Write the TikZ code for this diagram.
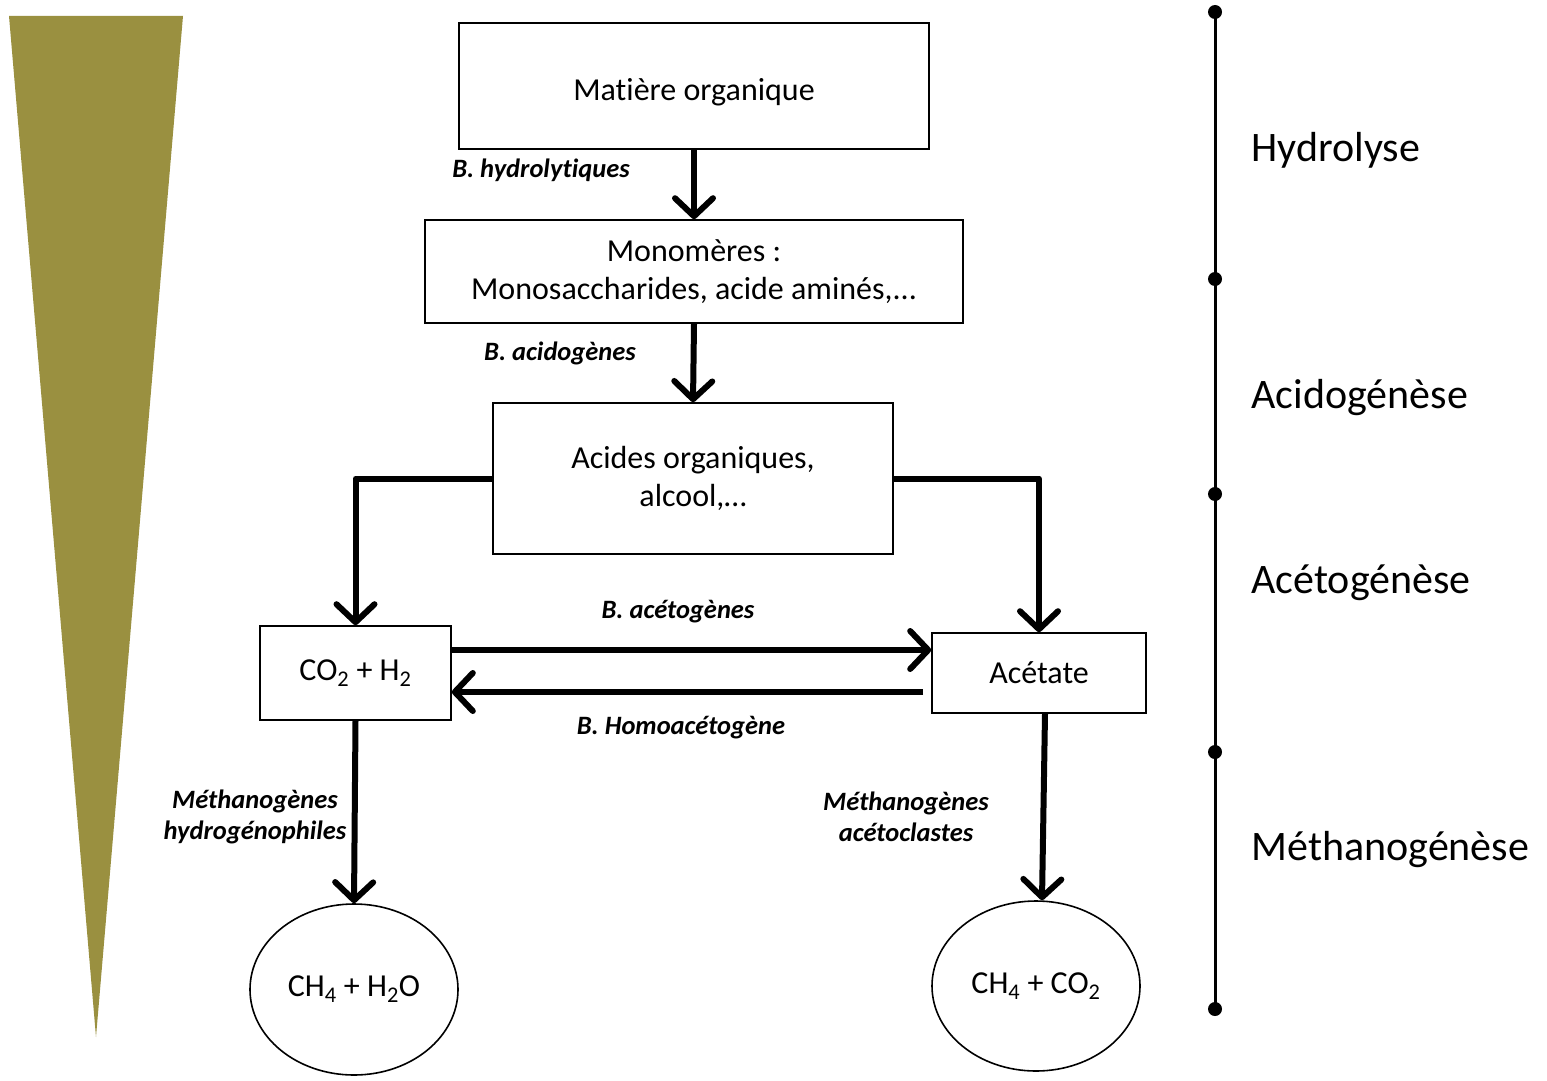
\documentclass[tikz,border=0pt]{standalone}
\usepackage{fontspec}
\setmainfont{Carlito}[RawFeature={-liga;-clig;-dlig;-rlig;-calt}]
\usetikzlibrary{arrows.meta,shapes.geometric}
\definecolor{olivefill}{RGB}{154,144,64}
\tikzset{
  stagebox/.style={draw, line width=1.6pt, inner sep=0pt, align=center, font=\fontsize{32}{38}\selectfont},
  endblob/.style={draw, ellipse, line width=1.6pt, inner sep=0pt, font=\fontsize{32}{38}\selectfont},
  flow/.style={line width=6pt, -{Straight Barb[length=18pt, width=38pt, round]}},
  microbe/.style={font=\fontsize{26.5}{31}\selectfont\bfseries\itshape, align=center},
  phase/.style={font=\fontsize{42}{46}\selectfont, anchor=west},
  tick/.style={circle, fill, inner sep=0pt, minimum size=14pt}
}
\begin{document}
\begin{tikzpicture}[x=1pt, y=-1pt]
    \useasboundingbox (0,0) rectangle (1547,1081);
    % the tapering wedge on the left
    \fill[olivefill] (9,16) -- (183,16) -- (96,1037) -- cycle;
    % stages
    \node[stagebox, minimum width=470pt, minimum height=126pt, text height=30pt, text depth=2pt] (matiere) at (694,86) {Matière organique};
    \node[stagebox, minimum width=538pt, minimum height=103pt] (monomeres) at (694,271.5) {Monomères :\\ Monosaccharides, acide aminés,...};
    \node[stagebox, minimum width=400pt, minimum height=151pt] (acides) at (693,478.5) {Acides organiques,\\alcool,…};
    \node[stagebox, minimum width=191pt, minimum height=94pt] (cohdeux) at (355.5,673) {CO\textsubscript{2} + H\textsubscript{2}};
    \node[stagebox, minimum width=214pt, minimum height=80pt] (acetate) at (1039,673) {Acétate};
    \node[endblob, minimum width=208pt, minimum height=171pt] (chhdo) at (354,989.5) {CH\textsubscript{4} + H\textsubscript{2}O};
    \node[endblob, minimum width=208pt, minimum height=170pt] (chcod) at (1036,986) {CH\textsubscript{4} + CO\textsubscript{2}};
    % arrows
    \draw[flow] (matiere.south) -- (monomeres.north);
    \draw[flow] (monomeres.south) -- (acides.north);
    \draw[flow, line join=round] (acides.west) -| (cohdeux.north);
    \draw[flow, line join=round] (acides.east) -| (acetate.north);
    \draw[flow] (cohdeux.east |- 0,650) -- (acetate.west |- 0,650);
    \draw[flow] ([xshift=-8pt]acetate.west |- 0,692) -- (cohdeux.east |- 0,692);
    \draw[flow] (cohdeux.south) -- (chhdo.north);
    \draw[flow] ([xshift=6pt]acetate.south) -- ([xshift=6pt]chcod.north);
    % bacteria
    \node[microbe] (hydro) at (541,170) {B. hydrolytiques};
    \node[microbe] (acido) at (560,353) {B. acidogènes};
    \node[microbe] (aceto) at (678,612) {B. acétogènes};
    \node[microbe] (homo) at (681,728) {B. Homoacétogène};
    \node[microbe] (methh) at (255,817) {Méthanogènes\\hydrogénophiles};
    \node[microbe] (metha) at (906,817) {Méthanogènes\\acétoclastes};
    % time line with the phases
    \foreach \y/\name in {12/ta, 279/tb, 494/tc, 752/td, 1009/te} {
        \node[tick] (\name) at (1215,\y) {};
    }
    \draw[line width=3pt] (ta.center) -- (te.center);
    \node[phase] (hydrolyse) at (1248,150) {Hydrolyse};
    \node[phase] (acidogenese) at (1248,398) {Acidogénèse};
    \node[phase] (acetogenese) at (1248,583) {Acétogénèse};
    \node[phase] (methanogenese) at (1248,850) {Méthanogénèse};
\end{tikzpicture}
\end{document}
